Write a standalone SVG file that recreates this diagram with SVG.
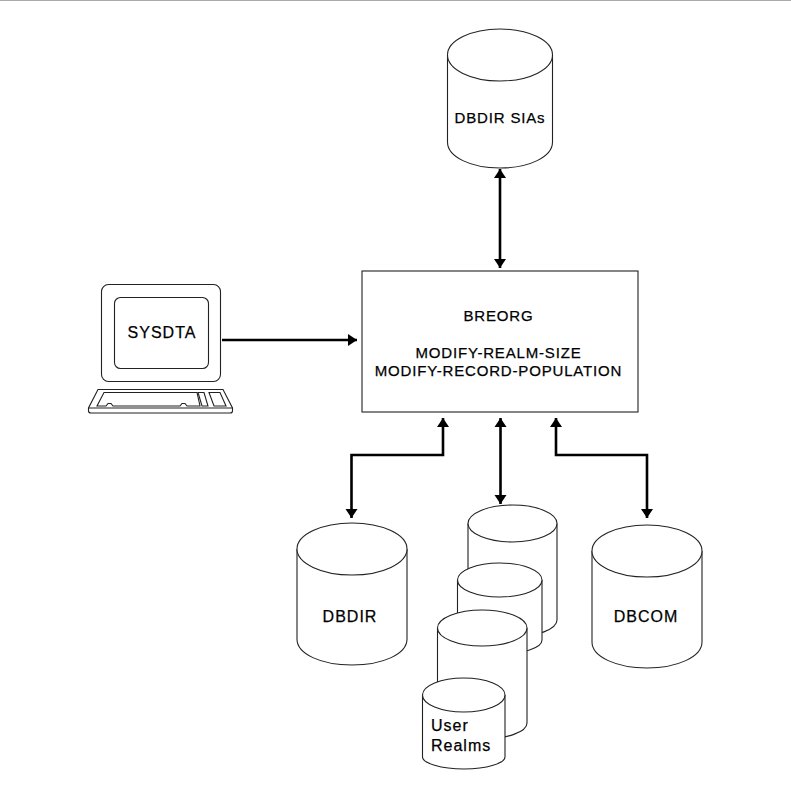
<svg xmlns="http://www.w3.org/2000/svg" width="791" height="792" viewBox="0 0 791 792">
<style>
.s{fill:#fff;stroke:#222;stroke-width:1.1}
.n{fill:none;stroke:#222;stroke-width:1.1}
.c{fill:none;stroke:#000;stroke-width:2.6}
.t{font-family:"Liberation Sans",Arial,sans-serif;font-size:16px;letter-spacing:1px;fill:#000;stroke:#000;stroke-width:.25;text-anchor:middle}
.m{font-size:15px;letter-spacing:.83px}
.l{text-anchor:start}
</style>
<defs>
<marker id="a" markerUnits="userSpaceOnUse" markerWidth="12" markerHeight="13" refX="9" refY="6.500" orient="auto-start-reverse"><path d="M0 0.500L9 6.500L0 12.500z" fill="#000"/></marker>
</defs>
<rect width="791" height="792" fill="#fff"/>
<rect x="0" y="0" width="791" height="1" fill="#aaa"/>
<g id="dbdir-sias">
<path class="s" d="M447.500 55V142C447.500 157 471 168 500 168S552.500 157 552.500 142V55"/>
<ellipse class="s" cx="500" cy="55" rx="52.500" ry="26"/>
<text class="t m" x="500" y="123">DBDIR SIAs</text>
</g>
<g id="breorg">
<rect class="s" x="362" y="271" width="276" height="141"/>
<text class="t m" x="498.500" y="321">BREORG</text>
<text class="t m" x="498.500" y="358">MODIFY-REALM-SIZE</text>
<text class="t m" x="498.500" y="376">MODIFY-RECORD-POPULATION</text>
</g>
<g id="sysdta">
<rect class="s" x="101.500" y="284.500" width="119" height="97" rx="7"/>
<rect class="s" x="114.500" y="297.500" width="94" height="71" rx="6"/>
<path class="s" d="M98 389.500H223L232.500 408V411Q232.500 413 230 413H91Q88.500 413 88.500 411V408Z"/>
<path class="n" d="M88.500 408H232.500"/>
<path class="n" d="M104 392.500H197L200 406H187L185 403.500H182L180 406H113L111 403.500H108L106 406H97Z"/>
<path class="n" d="M198 392.500H204L208 406H202Z"/>
<path class="n" d="M209 392.500H220L226 406H214Z"/>
<text class="t" x="162" y="338">SYSDTA</text>
</g>
<g id="dbdir">
<path class="s" d="M297 549V639C297 654 321 665 352 665S407 654 407 639V549"/>
<ellipse class="s" cx="352" cy="549" rx="55" ry="26"/>
<text class="t" x="350" y="622">DBDIR</text>
</g>
<g id="user-realms">
<path class="s" d="M468 523.500V620C468 629 488 637 512.500 637S557 629 557 620V523.500"/>
<ellipse class="s" cx="512.500" cy="523.500" rx="44.500" ry="18.500"/>
<path class="s" d="M457.500 580V640C457.500 648 476 654 499.500 654S542 648 542 640V580"/>
<ellipse class="s" cx="499.750" cy="580" rx="42.250" ry="17"/>
<path class="s" d="M437.500 628V723C437.500 732 457 739 482 739S527 732 527 723V628"/>
<ellipse class="s" cx="482.250" cy="628" rx="44.750" ry="18"/>
<path class="s" d="M422.500 695V757C422.500 763 441 769 464 769S505 763 505 757V695"/>
<ellipse class="s" cx="463.750" cy="695" rx="41.250" ry="17"/>
<text class="t l" x="431" y="731">User</text>
<text class="t l" x="431" y="751">Realms</text>
</g>
<g id="dbcom">
<path class="s" d="M592 551V642C592 657 617 668 647 668S702 657 702 642V551"/>
<ellipse class="s" cx="647" cy="551" rx="55" ry="26"/>
<text class="t" x="646" y="622">DBCOM</text>
</g>
<g id="connectors">
<path class="c" d="M500 169V268" marker-start="url(#a)" marker-end="url(#a)"/>
<path class="c" d="M222 340H357" marker-end="url(#a)"/>
<path class="c" d="M443 418V455H351.500V518" marker-start="url(#a)" marker-end="url(#a)"/>
<path class="c" d="M500.500 418V504" marker-start="url(#a)" marker-end="url(#a)"/>
<path class="c" d="M556 418V455H647V518" marker-start="url(#a)" marker-end="url(#a)"/>
</g>
</svg>
